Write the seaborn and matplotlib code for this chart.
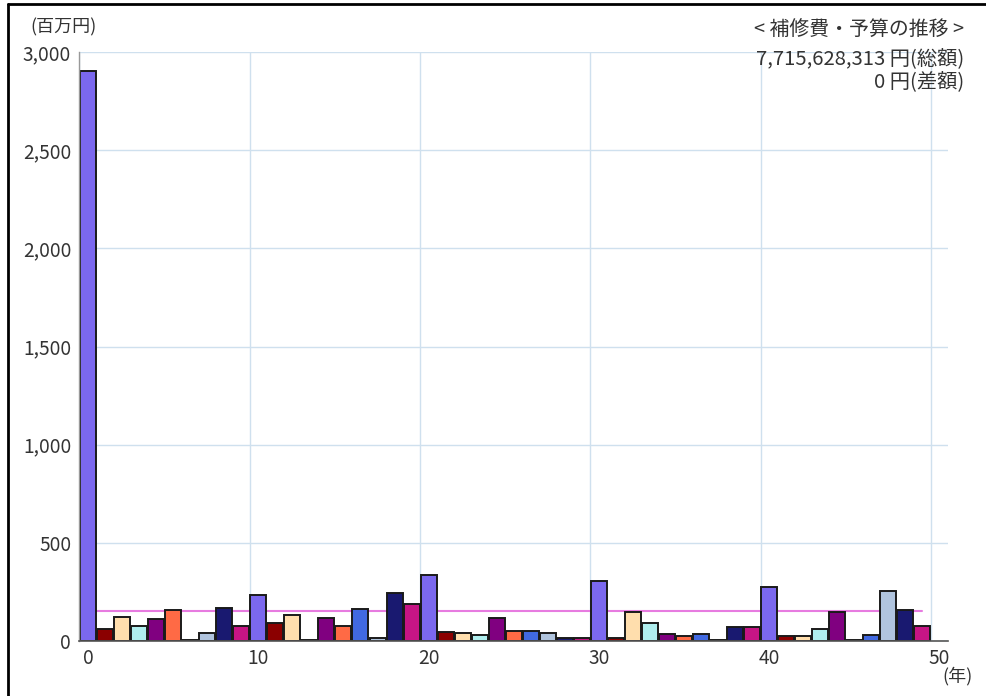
import matplotlib
matplotlib.use("Agg")
import matplotlib.pyplot as plt
from matplotlib.lines import Line2D
import seaborn as sns
import pandas as pd

years = list(range(50))
costs = [2905, 60, 122, 76, 112, 156, 7, 41, 170, 76,
         232, 93, 134, 5, 115, 75, 161, 14, 246, 190,
         336, 47, 42, 30, 119, 49, 49, 41, 14, 15,
         307, 14, 147, 93, 36, 27, 36, 6, 69, 69,
         273, 24, 27, 63, 149, 6, 29, 256, 159, 78]
cycle_colors = ["#7B68EE", "#8B0000", "#FFDEAD", "#AFEEEE", "#800080",
                "#FF6A45", "#4169E1", "#B0C4DE", "#191970", "#C71585"]
budget = 154.3
x_tick_labels = ["0", "10", "20", "30", "40", "50"]
y_ticks = [0, 500, 1000, 1500, 2000, 2500, 3000]
title_lines = ["< 補修費・予算の推移 >", "7,715,628,313 円(総額)", "0 円(差額)"]
y_unit = "(百万円)"
x_unit = "(年)"

sns.set_theme(style="white")
plt.rcParams['font.family'] = ['Noto Sans CJK JP', 'DejaVu Sans']

W, H = 987, 696
fig = plt.figure(figsize=(W / 100, H / 100), dpi=100)
fig.patch.set_facecolor("white")
ax = fig.add_axes([79.5 / W, 1 - 641 / H, (948 - 79.5) / W, (641 - 52) / H])

df = pd.DataFrame({"year": [str(y) for y in years], "cost": costs})
palette = {str(y): cycle_colors[y % 10] for y in years}
sns.barplot(data=df, x="year", y="cost", hue="year", palette=palette,
            legend=False, width=0.94, edgecolor="#1a1a1a", linewidth=1.4,
            ax=ax, saturation=1, zorder=2)

ax.plot([0, 49], [budget, budget], color="#E77BE0", lw=1.5, zorder=1.5)

ax.set_xlim(-0.5, 50.5)
ax.set_ylim(0, 3000)
ax.set_xticks([0, 10, 20, 30, 40, 50])
ax.set_xticklabels(x_tick_labels)
ax.set_xticks([-0.5 + 10 * i for i in range(6)], minor=True)
ax.set_yticks(y_ticks)
ax.set_yticklabels([f"{v:,}" for v in y_ticks])
ax.set_xlabel("")
ax.set_ylabel("")

ax.grid(False)
ax.grid(which="minor", axis="x", color="#cfe0ee", lw=1)
ax.grid(which="major", axis="y", color="#cfe0ee", lw=1)
ax.set_axisbelow(True)

for s in ["top", "right"]:
    ax.spines[s].set_visible(False)
ax.spines["left"].set_color("#999999")
ax.spines["bottom"].set_color("#555555")
ax.spines["left"].set_linewidth(1)
ax.spines["bottom"].set_linewidth(1.2)

ax.tick_params(axis="both", which="both", length=0, labelsize=13.8, colors="#333333")
ax.tick_params(axis="y", pad=6)
ax.tick_params(axis="x", pad=5)

tc = "#333333"
fig.text(64 / W, 1 - 27 / H, y_unit, ha="center", va="center", fontsize=13, color=tc)
fig.text(964 / W, 1 - 29 / H, title_lines[0], ha="right", va="center", fontsize=14.3, color=tc)
fig.text(964 / W, 1 - 59 / H, title_lines[1], ha="right", va="center", fontsize=14.6, color=tc)
fig.text(964 / W, 1 - 82 / H, title_lines[2], ha="right", va="center", fontsize=14.6, color=tc)
fig.text(958 / W, 1 - 676 / H, x_unit, ha="center", va="center", fontsize=13, color=tc)

fig.add_artist(Line2D([8.5 / W, 1.01], [1 - 3.5 / H, 1 - 3.5 / H], color="black", lw=2, transform=fig.transFigure))
fig.add_artist(Line2D([8.5 / W, 8.5 / W], [-0.01, 1 - 3.5 / H], color="black", lw=2, transform=fig.transFigure))

fig.savefig("out.png", dpi=100)
